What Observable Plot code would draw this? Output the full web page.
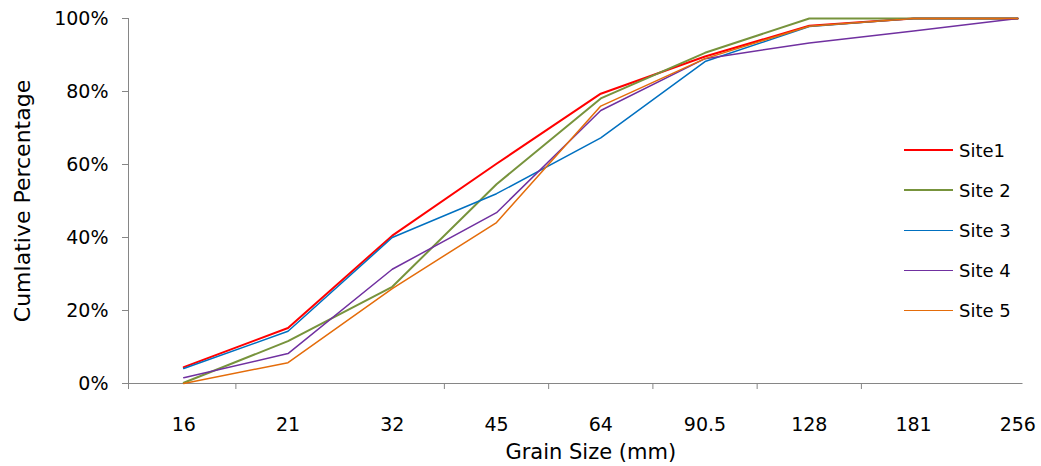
<!DOCTYPE html>
<html><head><meta charset="utf-8">
<script src="https://cdn.jsdelivr.net/npm/d3@7"></script>
<script src="https://cdn.jsdelivr.net/npm/@observablehq/plot@0.6"></script>
<style>
body{margin:0;background:#fff;font-family:"DejaVu Sans",sans-serif;}
#wrap{position:relative;width:1041px;height:466px;}
#legend{position:absolute;left:904px;top:130px;}
.item{display:flex;align-items:center;height:40.2px;font-size:18px;color:#000;white-space:nowrap}
.sw{width:49px;margin-right:6px}
</style></head><body><div id="wrap"></div><script>
const grainSizes = ["16","21","32","45","64","90.5","128","181","256"];
const seriesNames = ["Site1","Site 2","Site 3","Site 4","Site 5"];
const site1 = [4.5, 15.2, 40.5, 60.2, 79.4, 89.6, 98, 100, 100];
const site2 = [0.2, 11.6, 26.5, 54.6, 78.1, 90.6, 100, 100, 100];
const site3 = [4.1, 14.3, 40, 52, 67.3, 88.2, 97.8, 100, 100];
const site4 = [1.6, 8.2, 31.3, 46.8, 74.8, 89, 93.3, 96.6, 100];
const site5 = [0, 5.7, 26, 44.1, 76, 89, 97.9, 100, 100];
const seriesColors = ["#FF0000","#77933C","#0070C0","#7030A0","#E46C0A"];
const seriesWidths = [2, 2, 1.5, 1.5, 1.5];
const yTicks = [0, 20, 40, 60, 80, 100];
const xMinorTicks = [0.5, 2.5, 3.5, 4.5, 5.5, 6.5];

const allSeries = [site1, site2, site3, site4, site5];
const xDomain = [-0.53, 8.05];
const axisColor = "#868686";

const lineMarks = allSeries.map((vals, s) =>
  Plot.line(vals.map((v, i) => ({i, v})), {x: "i", y: "v", stroke: seriesColors[s], strokeWidth: seriesWidths[s]})
);

const chart = Plot.plot({
  width: 1041, height: 466,
  marginLeft: 128, marginRight: 18.5, marginTop: 18, marginBottom: 83,
  x: {domain: xDomain},
  y: {domain: [0, 100]},
  style: {fontFamily: "DejaVu Sans", fontSize: "19px", color: "#000", background: "white", overflow: "visible"},
  marks: [
    Plot.ruleY([0], {stroke: axisColor}),
    Plot.ruleX([xDomain[0]], {stroke: axisColor}),
    Plot.axisY({ticks: yTicks, tickFormat: d => d + "%", tickSize: 6, tickPadding: 14, stroke: axisColor, fill: "#000", fontSize: 19, label: null}),
    Plot.axisX({ticks: [xDomain[0], ...xMinorTicks], tickFormat: () => "", tickSize: 6, stroke: axisColor, label: null}),
    Plot.axisX({ticks: d3.range(grainSizes.length), tickFormat: i => grainSizes[i], tickSize: 0, tickPadding: 34, fill: "#000", fontSize: 19, label: null}),
    Plot.text(["Grain Size (mm)"], {frameAnchor: "bottom", dx: 15, dy: 69, fontSize: 21, lineAnchor: "middle", textAnchor: "middle", fill: "#000"}),
    Plot.text(["Cumlative Percentage"], {frameAnchor: "left", dx: -106, rotate: -90, fontSize: 22, lineAnchor: "middle", textAnchor: "middle", fill: "#000"}),
    ...lineMarks
  ]
});
const wrap = document.getElementById("wrap");
wrap.appendChild(chart);
const legend = document.createElement("div");
legend.id = "legend";
seriesNames.forEach((name, s) => {
  const item = document.createElement("div");
  item.className = "item";
  const sw = document.createElement("div");
  sw.className = "sw";
  sw.style.borderTop = seriesWidths[s] + "px solid " + seriesColors[s];
  const lab = document.createElement("span");
  lab.textContent = name;
  item.appendChild(sw); item.appendChild(lab);
  legend.appendChild(item);
});
wrap.appendChild(legend);
</script></body></html>
